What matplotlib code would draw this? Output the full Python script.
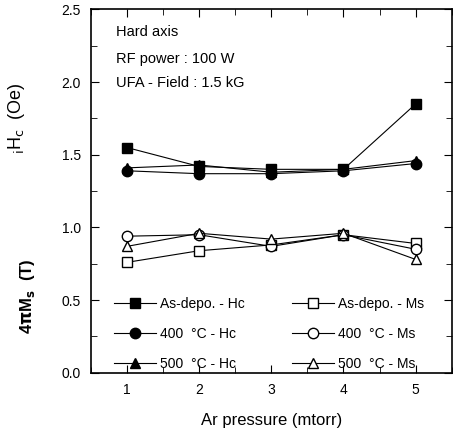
import numpy as np
import matplotlib.pyplot as plt

plt.rcParams['font.family'] = ['Liberation Sans', 'DejaVu Sans']

pressure = [1, 2, 3, 4, 5]

hc_asdepo = [1.55, 1.42, 1.40, 1.40, 1.85]
hc_400 = [1.39, 1.37, 1.37, 1.39, 1.44]
hc_500 = [1.41, 1.43, 1.38, 1.40, 1.46]

ms_asdepo = [0.76, 0.84, 0.88, 0.95, 0.89]
ms_400 = [0.94, 0.95, 0.87, 0.95, 0.85]
ms_500 = [0.87, 0.96, 0.92, 0.96, 0.78]

fig = plt.figure(figsize=(4.61, 4.30), dpi=100)
ax = fig.add_axes([0.197, 0.133, 0.783, 0.845])

kw = dict(color='black', lw=0.8, ms=7.5)
ax.plot(pressure, hc_asdepo, marker='s', label='As-depo. - Hc', **kw)
ax.plot(pressure, hc_400, marker='o', label='400  °C - Hc', **kw)
ax.plot(pressure, hc_500, marker='^', label='500  °C - Hc', **kw)
ax.plot(pressure, ms_asdepo, marker='s', mfc='white', label='As-depo. - Ms', **kw)
ax.plot(pressure, ms_400, marker='o', mfc='white', label='400  °C - Ms', **kw)
ax.plot(pressure, ms_500, marker='^', mfc='white', label='500  °C - Ms', **kw)

ax.set_xlim(0.5, 5.5)
ax.set_ylim(0, 2.5)
ax.set_xticks(pressure)
ax.set_xticks(np.arange(0.5, 5.6, 0.5), minor=True)
ax.set_yticks(np.arange(0, 2.51, 0.5))
ax.set_yticks(np.arange(0, 2.51, 0.25), minor=True)
ax.yaxis.set_major_formatter(plt.FormatStrFormatter('%.1f'))
ax.tick_params(which='both', direction='in', top=True, right=True, labelsize=10)
ax.tick_params(which='major', length=6, pad=7)
ax.tick_params(which='minor', length=4)
for s in ax.spines.values():
    s.set_linewidth(1.2)

ax.set_xlabel('Ar pressure (mtorr)', fontsize=12, labelpad=12)
ax.text(-0.205, 0.70, '$_{\\mathsf{i}}$H$_{\\mathsf{c}}$  (Oe)', transform=ax.transAxes,
        rotation=90, ha='center', va='center', fontsize=13)
ax.text(-0.175, 0.21, '4$\\mathbf{\\pi}$M$_{\\mathbf{s}}$  (T)', transform=ax.transAxes,
        rotation=90, ha='center', va='center', fontsize=12, fontweight='bold')

ax.text(0.07, 0.937, 'Hard axis', transform=ax.transAxes, fontsize=10.5, va='center')
ax.text(0.07, 0.865, 'RF power : 100 W', transform=ax.transAxes, fontsize=10.5, va='center')
ax.text(0.07, 0.797, 'UFA - Field : 1.5 kG', transform=ax.transAxes, fontsize=10.5, va='center')

ax.legend(loc='lower left', bbox_to_anchor=(0.03, -0.03), ncol=2, frameon=False,
          fontsize=10, handlelength=3.0, handletextpad=0.3, columnspacing=3.4,
          labelspacing=1.15, markerscale=1.0)

fig.savefig('out.png', dpi=100)
